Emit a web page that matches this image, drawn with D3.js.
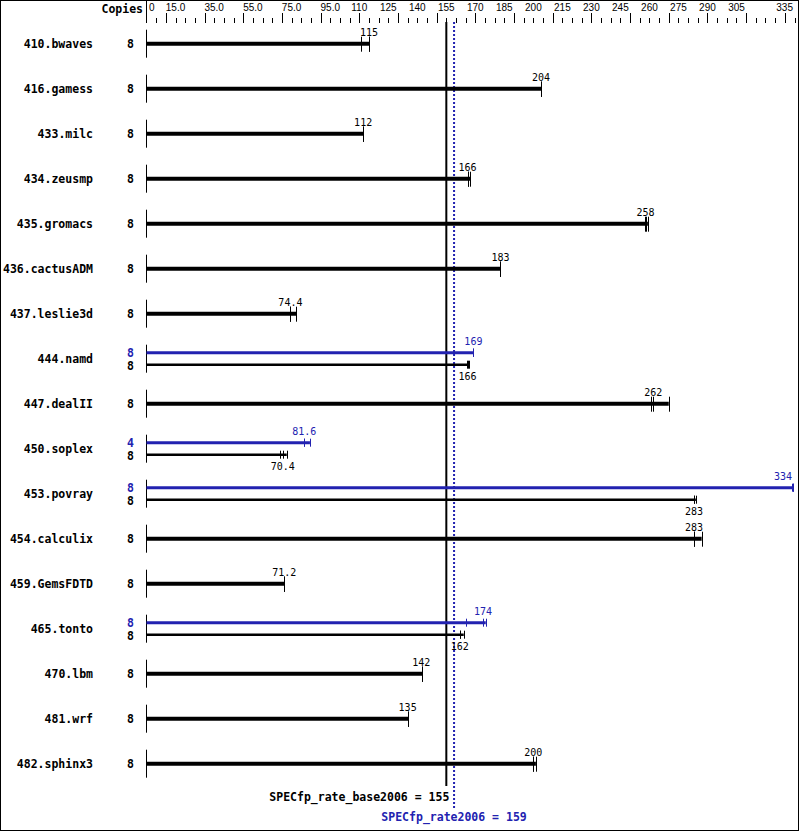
<!DOCTYPE html>
<html><head><meta charset="utf-8">
<script src="https://cdn.jsdelivr.net/npm/d3@7"></script>
<style>html,body{margin:0;padding:0;background:#fff}</style>
</head><body>
<svg id="c" width="799" height="831"></svg>
<script>
const benchmarks = ["410.bwaves","416.gamess","433.milc","434.zeusmp","435.gromacs","436.cactusADM","437.leslie3d","444.namd","447.dealII","450.soplex","453.povray","454.calculix","459.GemsFDTD","465.tonto","470.lbm","481.wrf","482.sphinx3"];
const baseCopies = [8,8,8,8,8,8,8,8,8,8,8,8,8,8,8,8,8];
const baseValues = ["115","204","112","166","258","183","74.4","166","262","70.4","283","283","71.2","162","142","135","200"];
const baseRuns = [[110.8,115,115.2],[204,204,204],[112,112,112],[166,166.3,167.3],[257.8,258,259.2],[183,183,183],[74.4,74.4,77.3],[165.6,166,166.6],[261,262,270],[69,70.4,72.5],[283,283.3,284],[283,283,287],[71.2,71.2,71.2],[162,162,164],[142.5,142.5,142.5],[135.2,135.2,135.2],[199.8,200,201.3]];
const peakCopies = [null,null,null,null,null,null,null,8,null,4,8,null,null,8,null,null,null];
const peakValues = [null,null,null,null,null,null,null,"169",null,"81.6","334",null,null,"174",null,null,null];
const peakRuns = [null,null,null,null,null,null,null,[169,169,169],null,[81.6,81.6,84.5],[333.6,334,334.4],null,null,[165,174,175.4],null,null,null];
const axisLabels = [0,15,35,55,75,95,110,125,140,155,170,185,200,215,230,245,260,275,290,305,335];
const baseMean = 155, peakMean = 159;

const svg = d3.select("#c");
const blue = "#2222b0";
const x = d3.scaleLinear().domain([0,335]).range([146.5,794.5]);
const y = d3.scaleBand().domain(benchmarks).range([21.2,786.2]);
const mono = "'DejaVu Sans Mono', 'Liberation Mono', monospace";
const rightLimit = 793;

// border
svg.append("rect").attr("x",0.5).attr("y",0.5).attr("width",798).attr("height",830)
  .attr("fill","none").attr("stroke","#000");

// top axis
svg.append("text").attr("x",143).attr("y",13).attr("text-anchor","end")
  .attr("font-family",mono).attr("font-weight","bold").attr("font-size","11.5px").text("Copies");
svg.append("line").attr("x1",146.5).attr("x2",146.5).attr("y1",0).attr("y2",23).attr("stroke","#000");
const minor = d3.range(5,336,5);
svg.append("g").selectAll("line").data(minor).join("line")
  .attr("x1",d=>Math.round(x(d))+0.5).attr("x2",d=>Math.round(x(d))+0.5)
  .attr("y1",d=>(d-10)%20===0?13:18).attr("y2",23).attr("stroke","#000");
svg.append("g").selectAll("text").data(axisLabels).join("text")
  .attr("x",d=>d===0?149:(d===335?rightLimit:x(d))).attr("y",11)
  .attr("text-anchor",d=>d===0?"start":(d===335?"end":"middle"))
  .attr("font-family","'Liberation Sans', Arial, sans-serif").attr("font-size","10px")
  .text(d=>d<100 && d>0 ? d.toFixed(1) : String(d));

// mean lines
svg.append("line").attr("x1",x(baseMean)).attr("x2",x(baseMean)).attr("y1",22).attr("y2",786)
  .attr("stroke","#000").attr("stroke-width",2);
svg.append("line").attr("x1",x(peakMean)).attr("x2",x(peakMean)).attr("y1",22).attr("y2",808)
  .attr("stroke",blue).attr("stroke-width",2).attr("stroke-dasharray","2,2");
svg.append("text").attr("x",x(baseMean)+3).attr("y",801).attr("text-anchor","end")
  .attr("font-family",mono).attr("font-weight","bold").attr("font-size","11.5px")
  .text("SPECfp_rate_base2006 = " + baseMean);
svg.append("text").attr("x",x(peakMean)).attr("y",821).attr("text-anchor","middle")
  .attr("font-family",mono).attr("font-weight","bold").attr("font-size","11.5px").attr("fill",blue)
  .text("SPECfp_rate2006 = " + peakMean);

const rows = svg.append("g");
benchmarks.forEach((b,i)=>{
  const cy = y(b) + y.bandwidth()/2;
  const g = rows.append("g");
  g.append("text").attr("x",93).attr("y",cy+4).attr("text-anchor","end")
    .attr("font-family",mono).attr("font-weight","bold").attr("font-size","11.5px").text(b);
  g.append("line").attr("x1",146.5).attr("x2",146.5).attr("y1",cy-14).attr("y2",cy+14).attr("stroke","#000");
  const drawBar = (runs, label, yy, color, sw, th, below) => {
    const mx = d3.max(runs);
    g.append("line").attr("x1",146.5).attr("x2",x(mx)).attr("y1",yy).attr("y2",yy)
      .attr("stroke",color).attr("stroke-width",sw);
    runs.forEach(r=>{
      g.append("line").attr("x1",Math.round(x(r))+0.5).attr("x2",Math.round(x(r))+0.5)
        .attr("y1",yy-th).attr("y2",yy+th+(th>5?1:0)).attr("stroke",color);
    });
    const lx = x(+label);
    const half = label.length*3;
    const over = lx + half > rightLimit - 1;
    g.append("text").attr("x",over ? rightLimit-1 : lx).attr("y",below?yy+15:yy-8)
      .attr("text-anchor",over ? "end" : "middle")
      .attr("font-family",mono).attr("font-size","10px").attr("fill",color).text(label);
  };
  if (peakRuns[i]) {
    const py = cy-6, by = cy+6;
    g.append("text").attr("x",130.5).attr("y",py+4).attr("text-anchor","middle")
      .attr("font-family",mono).attr("font-weight","bold").attr("font-size","11.5px").attr("fill",blue).text(peakCopies[i]);
    g.append("text").attr("x",130.5).attr("y",by+5).attr("text-anchor","middle")
      .attr("font-family",mono).attr("font-weight","bold").attr("font-size","11.5px").text(baseCopies[i]);
    drawBar(peakRuns[i], peakValues[i], py, blue, 3, 4, false);
    drawBar(baseRuns[i], baseValues[i], by, "#000", 2.5, 4, true);
  } else {
    g.append("text").attr("x",130.5).attr("y",cy+4).attr("text-anchor","middle")
      .attr("font-family",mono).attr("font-weight","bold").attr("font-size","11.5px").text(baseCopies[i]);
    drawBar(baseRuns[i], baseValues[i], cy, "#000", 4, 7, false);
  }
});
</script>
</body></html>
